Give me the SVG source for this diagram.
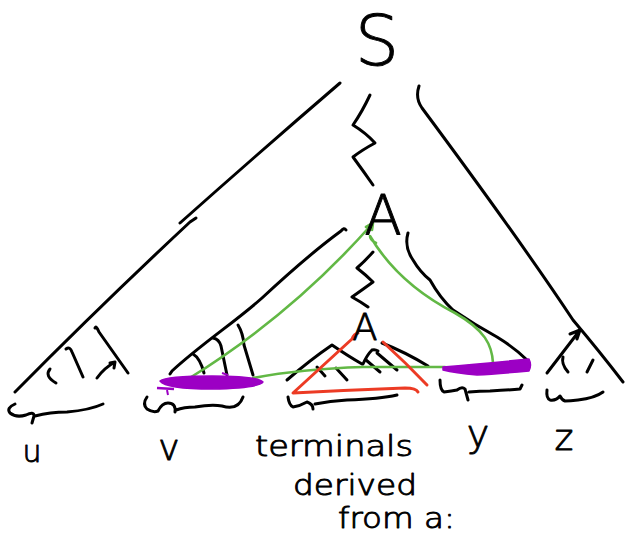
<svg xmlns="http://www.w3.org/2000/svg" width="626" height="542" viewBox="0 0 626 542">
<style>
.ink{fill:none;stroke:#000;stroke-width:3;stroke-linecap:round;stroke-linejoin:round}
.grn{fill:none;stroke:#62b845;stroke-width:2.6;stroke-linecap:round;stroke-linejoin:round}
.red{fill:none;stroke:#ec3b24;stroke-width:3;stroke-linecap:round;stroke-linejoin:round}
.pur{fill:#9c00c4;stroke:#9c00c4;stroke-width:1.5;stroke-linejoin:round}
.lbl{font-family:"DejaVu Sans","Liberation Sans",sans-serif;font-weight:200;fill:#000;stroke:#000;stroke-width:0.9;stroke-linejoin:round}
</style>
<rect width="626" height="542" fill="#fff"/>
<g id="connectors">
  <!-- outer tree -->
  <path class="ink" d="M340,83 Q262,150 180,223"/>
  <path class="ink" d="M196,218 L190,222 Q100,306 15,392"/>
  <path class="ink" d="M419,86 Q415,98 422,108 Q520,240 573,320 Q600,352 623,382"/>
  <!-- zigzag S to A -->
  <path class="ink" d="M370,95 Q362,112 353,125 Q366,133 375,143 Q362,150 353,157 Q364,172 373,185"/>
  <!-- inner tree under A -->
  <path class="ink" d="M346,230 Q344,227 341,231 C315,250 290,272 262,298 C235,322 200,345 172,371 L170,374"/>
  <path class="ink" d="M408,233 Q404,247 413,260 Q420,272 430,280 Q440,298 453,310 Q475,325 497,337 Q515,348 527,360"/>
  <!-- zigzag A to small A -->
  <path class="ink" d="M373,252 Q365,261 357,268 Q366,275 373,282 Q362,290 352,297 Q361,302 368,307"/>
  <!-- small subtree below small A -->
  <path class="ink" d="M287,380 Q310,360 332,345 Q348,356 362,364"/>
  <path class="ink" d="M317,367 L325,376"/>
  <path class="ink" d="M336,368 L347,380"/>
  <path class="ink" d="M363,364 Q367,355 372,350 Q375,349 378,351"/>
  <path class="ink" d="M366,360 L380,372"/>
  <path class="ink" d="M377,353 L397,370"/>
  <path class="ink" d="M382,343 Q405,352 428,366"/>
  <!-- u subtree hatches -->
  <path class="ink" d="M50,369 Q44,376 56,383"/>
  <path class="ink" d="M66,349 Q70,346 72,352 L83,377"/>
  <path class="ink" d="M95,328 Q96,325 99,332 L128,373"/>
  <path class="ink" d="M97,378 Q104,368 115,362 M110,363 L115,362 L114,368"/>
  <!-- v subtree hatches -->
  <path class="ink" d="M193,354 Q200,358 204,373"/>
  <path class="ink" d="M213,338 Q219,339 221,346 L227,375"/>
  <path class="ink" d="M238,325 Q243,333 244,345 L253,375"/>
  <!-- z subtree -->
  <path class="ink" d="M580,330 L547,373 M570,334 L580,330 L577,339"/>
  <path class="ink" d="M563,357 Q561,364 568,372"/>
  <path class="ink" d="M593,360 L587,372"/>
  <!-- braces -->
  <path class="ink" d="M15,404 Q6,408 10,413 Q16,418 26,415 Q34,411 34,416 L32,423 M35,416 Q50,412 67,412 Q90,410 103,404"/>
  <path class="ink" d="M147,397 Q142,404 147,409 Q153,413 158,411 Q162,403 168,403 Q176,403 175,412 M176,410 Q184,407 195,407 Q212,404 222,406 Q238,411 243,397"/>
  <path class="ink" d="M288,397 Q289,405 293,407 Q300,406 307,402 Q313,404 313,409 M315,404 Q330,401 347,400 Q380,399 397,395"/>
  <path class="ink" d="M440,380 Q440,390 444,392 Q452,391 457,390 Q462,386 465,389 L468,400 M469,392 Q480,391 490,391 Q510,390 520,389 L522,385"/>
  <path class="ink" d="M547,390 Q546,398 550,400 Q556,401 560,396 Q562,400 565,401 Q570,401 578,400 Q595,398 603,392"/>
  <!-- green highlights -->
  <path class="grn" d="M366,227 L373,223 L372,230 M373,223 Q292,315 188,379"/>
  <path class="grn" d="M376,243 Q370,240 370,236 C390,270 420,295 455,313 C485,330 492,345 493,363"/>
  <path class="grn" d="M253,378 Q300,369 363,367 L445,367"/>
  <!-- red triangle -->
  <path class="red" d="M358,333 Q354,334 352,339 L293,393 Q350,390 405,388 Q416,388 418,392"/>
  <path class="red" d="M383,342 Q405,362 427,385"/>
  <!-- purple bars -->
  <path class="pur" d="M160,381 Q166,376 212,376 Q258,376 263,382 Q260,388 212,389 Q166,389 160,381Z"/>
  <path class="pur" d="M157,388 L174,389" style="stroke-width:2.5;fill:none"/>
  <path class="pur" d="M167,390 L168,395" style="stroke-width:2;fill:none"/>
  <path class="pur" d="M222,373 L228,375" style="stroke-width:2;fill:none"/>
  <path class="pur" d="M443,367 Q480,364 529,359 Q532,365 529,371 Q495,374 477,375 Q455,373 443,370Z"/>
</g>
<g id="node-S"><text class="lbl" x="377" y="65" font-size="70" text-anchor="middle">S</text></g>
<g id="node-A"><text class="lbl" x="383" y="234" font-size="55" text-anchor="middle">A</text></g>
<g id="node-A-small"><text class="lbl" x="365" y="340" font-size="37" text-anchor="middle">A</text></g>
<g id="node-u"><text class="lbl" x="32" y="462" font-size="30" text-anchor="middle">u</text></g>
<g id="node-v"><text class="lbl" x="169" y="460" font-size="36" text-anchor="middle">v</text></g>
<g id="node-y"><text class="lbl" x="478" y="447" font-size="38" text-anchor="middle">y</text></g>
<g id="node-z"><text class="lbl" x="564" y="450" font-size="36" text-anchor="middle">z</text></g>
<g id="node-terminals">
  <text class="lbl" x="255" y="456" font-size="28" textLength="158" lengthAdjust="spacingAndGlyphs">terminals</text>
  <text class="lbl" x="293" y="495" font-size="28" textLength="124" lengthAdjust="spacingAndGlyphs">derived</text>
  <text class="lbl" x="338" y="528" font-size="28" textLength="117" lengthAdjust="spacingAndGlyphs">from a:</text>
</g>
</svg>
